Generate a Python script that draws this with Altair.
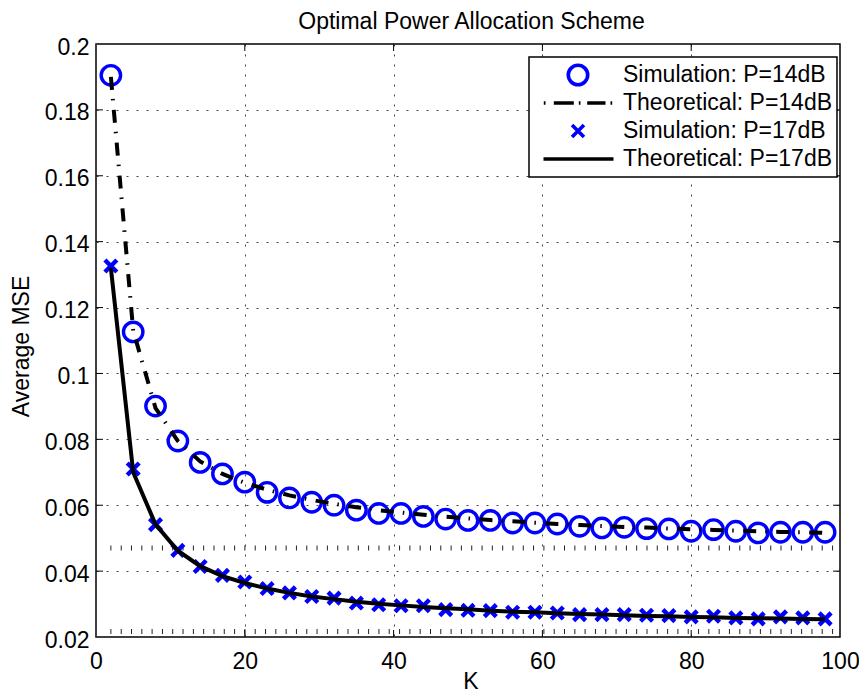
import altair as alt
import pandas as pd

FONT = "Liberation Sans"

# ---------------- data ----------------
K = [2, 5, 8, 11, 14, 17, 20, 23, 26, 29, 32, 35, 38, 41, 44, 47, 50,
     53, 56, 59, 62, 65, 68, 71, 74, 77, 80, 83, 86, 89, 92, 95, 98]

sim14 = [0.1905, 0.1126, 0.0901, 0.0795, 0.0730, 0.0695, 0.0670, 0.0639, 0.0622,
         0.0609, 0.0600, 0.0585, 0.0575, 0.0575, 0.0566, 0.0558, 0.0554, 0.0554,
         0.0546, 0.0546, 0.0543, 0.0536, 0.0531, 0.0533, 0.0529, 0.0528, 0.0521,
         0.0526, 0.0521, 0.0516, 0.0518, 0.0518, 0.0518]
theo14 = [0.1900, 0.1130, 0.0895, 0.0795, 0.0733, 0.0695, 0.0668, 0.0647, 0.0630,
          0.0616, 0.0604, 0.0594, 0.0585, 0.0578, 0.0571, 0.0565, 0.0560, 0.0555,
          0.0551, 0.0547, 0.0543, 0.0540, 0.0537, 0.0534, 0.0532, 0.0529, 0.0527,
          0.0525, 0.0523, 0.0521, 0.0519, 0.0518, 0.0516]
sim17 = [0.1326, 0.0710, 0.0541, 0.0463, 0.0414, 0.0387, 0.0367, 0.0347, 0.0334,
         0.0323, 0.0318, 0.0303, 0.0298, 0.0295, 0.0295, 0.0283, 0.0281, 0.0280,
         0.0275, 0.0275, 0.0273, 0.0268, 0.0268, 0.0268, 0.0266, 0.0265, 0.0261,
         0.0263, 0.0258, 0.0255, 0.0261, 0.0258, 0.0255]
theo17 = [0.1320, 0.0700, 0.0542, 0.0462, 0.0415, 0.0385, 0.0364, 0.0347, 0.0334,
          0.0323, 0.0315, 0.0307, 0.0301, 0.0296, 0.0291, 0.0287, 0.0284, 0.0280,
          0.0277, 0.0275, 0.0272, 0.0270, 0.0268, 0.0266, 0.0264, 0.0263, 0.0261,
          0.0260, 0.0258, 0.0257, 0.0256, 0.0255, 0.0254]

series_names = ["Simulation: P=14dB", "Theoretical: P=14dB",
                "Simulation: P=17dB", "Theoretical: P=17dB"]
series_colors = ["#0000ff", "#000000", "#0000ff", "#000000"]

x_ticks = [0, 20, 40, 60, 80, 100]
y_ticks = [0.02, 0.04, 0.06, 0.08, 0.10, 0.12, 0.14, 0.16, 0.18, 0.20]
inner_x_ticks = [20, 40, 60, 80]
inner_y_ticks = [0.04, 0.06, 0.08, 0.10, 0.12, 0.14, 0.16, 0.18]

# rows of small vertical marks seen in the figure
row_levels = [0.047, 0.0217]
row_positions = [2.00, 3.39, 4.77, 6.16, 7.54, 8.93, 10.31, 11.70, 13.09, 14.47,
                 15.86, 17.24, 18.63, 20.01, 21.40, 22.79, 24.17, 25.56, 26.94,
                 28.33, 29.71, 31.10, 32.49, 33.87, 35.26, 36.64, 38.03, 39.41,
                 40.80, 42.19, 43.57, 44.96, 46.34, 47.73, 49.11, 50.50, 51.89,
                 53.27, 54.66, 56.04, 57.43, 58.81, 60.20, 61.59, 62.97, 64.36,
                 65.74, 67.13, 68.51, 69.90, 71.29, 72.67, 74.06, 75.44, 76.83,
                 78.21, 79.60, 80.99, 82.37, 83.76, 85.14, 86.53, 87.91, 89.30,
                 90.69, 92.07, 93.46, 94.84, 96.23, 97.61, 99.00]

# ---------------- tables ----------------
df_sim14 = pd.DataFrame({"K": K, "MSE": sim14, "series": series_names[0]})
df_theo14 = pd.DataFrame({"K": K, "MSE": theo14, "series": series_names[1]})
df_sim17 = pd.DataFrame({"K": K, "MSE": sim17, "series": series_names[2]})
df_theo17 = pd.DataFrame({"K": K, "MSE": theo17, "series": series_names[3]})
df_rows = pd.DataFrame([{"K": k, "MSE": lv} for lv in row_levels for k in row_positions])

# ---------------- styling ----------------
W, H = 744, 593
SYM = 7310  # symbol size -> 85.5 px unit box

circle_path = "M0.2269 0A0.2269 0.2269 0 1 1 -0.2269 0A0.2269 0.2269 0 1 1 0.2269 0Z"
x_path = "M-0.14 -0.14L0.14 0.14M-0.14 0.14L0.14 -0.14"
dashdot_path = ("M-1 0M-0.800 0L-0.760 0M-0.566 0L-0.098 0M0.019 0L0.058 0"
                "M0.215 0L0.643 0M0.760 0L0.800 0")
solid_path = "M-1 0M-0.807 0L0.830 0"
series_shapes = [circle_path, dashdot_path, x_path, solid_path]

xscale = alt.Scale(domain=[0, 100], nice=False, zero=False)
yscale = alt.Scale(domain=[0.02, 0.2], nice=False, zero=False)

xaxis = alt.Axis(values=x_ticks, title="K", grid=True, gridDash=[2, 8],
                 gridColor="#444444", gridWidth=1, domain=False, ticks=False,
                 labelPadding=13, labelFontSize=23, labelFont=FONT,
                 labelColor="black", labelFlush=False, labelOverlap=False,
                 titleFont=FONT, titleFontSize=23, titleFontWeight="normal",
                 titleColor="black", titleX=374.5, titleY=51,
                 titleBaseline="alphabetic", titleAlign="center")
yaxis = alt.Axis(values=y_ticks, format=".2~f", title="Average MSE", grid=True,
                 gridDash=[2, 8], gridColor="#444444", gridWidth=1, domain=False,
                 ticks=False, labelPadding=7, labelOffset=3, labelFontSize=23,
                 labelFont=FONT, labelColor="black", labelFlush=False,
                 labelOverlap=False, titleFont=FONT, titleFontSize=23,
                 titleFontWeight="normal", titleColor="black", titleX=-68,
                 titleY=302, titleAngle=270, titleBaseline="alphabetic",
                 titleAlign="center")

legend = alt.Legend(title=None, orient="none", legendX=433, legendY=13,
                    direction="vertical", padding=4, clipHeight=28, rowPadding=0,
                    labelOffset=0, labelFontSize=23, labelFont=FONT,
                    labelColor="black", labelLimit=400, strokeColor="black",
                    fillColor="white", symbolSize=SYM, symbolStrokeWidth=3.6,
                    symbolOpacity=1)

X = alt.X("K:Q", scale=xscale, axis=xaxis)
Y = alt.Y("MSE:Q", scale=yscale, axis=yaxis)
color_enc = alt.Color("series:N", scale=alt.Scale(domain=series_names, range=series_colors), legend=legend)
shape_enc = alt.Shape("series:N", scale=alt.Scale(domain=series_names, range=series_shapes), legend=legend)

rows = alt.Chart(df_rows).mark_tick(orient="vertical", size=5, thickness=1,
                                    color="#222222", opacity=1).encode(x=X, y=Y)

pts14 = alt.Chart(df_sim14).mark_point(filled=False, size=SYM, strokeWidth=3.4,
                                       opacity=1).encode(x=X, y=Y, color=color_enc, shape=shape_enc)
pts17 = alt.Chart(df_sim17).mark_point(filled=False, size=SYM, strokeWidth=4.4,
                                       opacity=1).encode(x=X, y=Y, color=color_enc, shape=shape_enc)
line14 = alt.Chart(df_theo14).mark_line(color="black", strokeWidth=4,
                                        strokeDash=[13, 9, 1.5, 9.5]).encode(x=X, y=Y)
line17 = alt.Chart(df_theo17).mark_line(color="black", strokeWidth=4).encode(x=X, y=Y)

tick_b = alt.Chart(pd.DataFrame({"K": inner_x_ticks})).mark_rule(color="black", strokeWidth=1).encode(
    x=X, y=alt.value(H), y2=alt.value(H - 7))
tick_t = alt.Chart(pd.DataFrame({"K": inner_x_ticks})).mark_rule(color="black", strokeWidth=1).encode(
    x=X, y=alt.value(0), y2=alt.value(7))
tick_l = alt.Chart(pd.DataFrame({"MSE": inner_y_ticks})).mark_rule(color="black", strokeWidth=1).encode(
    y=Y, x=alt.value(0), x2=alt.value(7))
tick_r = alt.Chart(pd.DataFrame({"MSE": inner_y_ticks})).mark_rule(color="black", strokeWidth=1).encode(
    y=Y, x=alt.value(W), x2=alt.value(W - 7))

chart = alt.layer(rows, tick_b, tick_t, tick_l, tick_r, pts14, line14, pts17, line17).properties(
    width=W, height=H,
    title=alt.TitleParams("Optimal Power Allocation Scheme", font=FONT, fontSize=23,
                          fontWeight="normal", color="black", anchor="middle",
                          frame="group", offset=2, dx=3.5),
    autosize=alt.AutoSizeParams(type="none"),
    padding={"left": 88, "top": 36, "right": 19, "bottom": 56},
    background="white",
).configure_view(stroke="black", strokeWidth=1.5).configure_legend(strokeWidth=1.5)

chart.save("out.html", embed_options={"renderer": "svg", "actions": False})
